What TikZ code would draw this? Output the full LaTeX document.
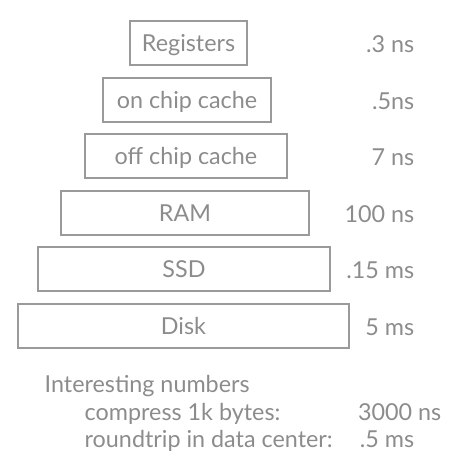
\documentclass[tikz,border=0pt]{standalone}
\usepackage{fontspec}
\setmainfont{Lato}
\usetikzlibrary{positioning}
\definecolor{slideGray}{HTML}{8C8C8C}
\definecolor{slideLine}{HTML}{9A9A9A}

\begin{document}
\begin{tikzpicture}[
    x=0.75pt, y=-0.75pt,
    every node/.style={text=slideGray, font=\fontsize{17.5}{20}\selectfont},
    level/.style={draw=slideLine, line width=1.25pt, minimum height=33pt,
        inner sep=0pt, text height=12.75pt, text depth=0pt},
    latency/.style={anchor=base east},
    note/.style={anchor=base west}
]
    \useasboundingbox (0,0) rectangle (454,468);

    \node[level, minimum width=87.75pt] (REG) at (188.5,43) {Registers};
    \node[level, minimum width=126pt] (L1) at (187,100) {on chip cache};
    \node[level, minimum width=151.5pt] (L2) at (186,156) {off chip cache};
    \node[level, minimum width=186pt] (RAM) at (185,213) {RAM};
    \node[level, minimum width=219pt] (SSD) at (184,269) {SSD};
    \node[level, minimum width=248.25pt] (DISK) at (183.5,326) {Disk};

    \node[latency] (tREG) at (419,52) {.3 ns};
    \node[latency] (tL1) at (419,109) {.5ns};
    \node[latency] (tL2) at (419,165) {7 ns};
    \node[latency] (tRAM) at (419,222) {100 ns};
    \node[latency] (tSSD) at (419,278) {.15 ms};
    \node[latency] (tDISK) at (419,335) {5 ms};

    \node[note] (title) at (40,392) {Interesting numbers};
    \node[note] (zip) at (80,420) {compress 1k bytes:};
    \node[note] (rtt) at (80,447) {roundtrip in data center:};
    \node[latency] (tzip) at (446,420) {3000 ns};
    \node[latency] (trtt) at (419,447) {.5 ms};
\end{tikzpicture}
\end{document}
